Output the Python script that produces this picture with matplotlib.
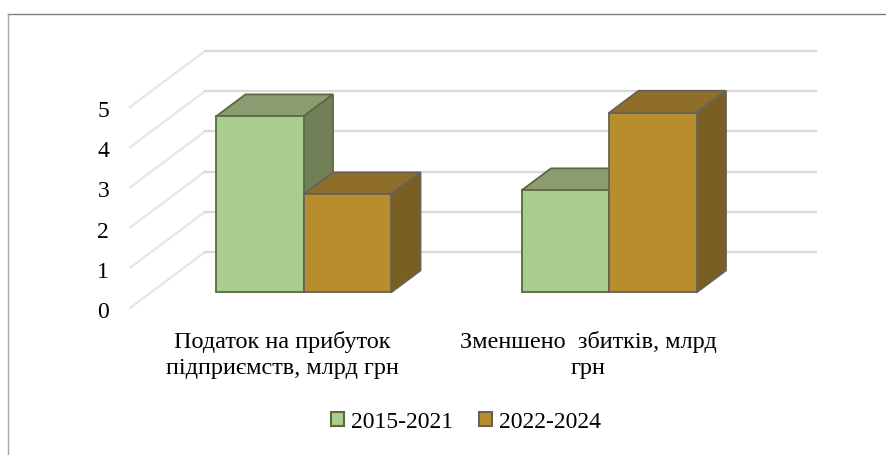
import matplotlib
matplotlib.use("Agg")
import matplotlib.pyplot as plt
from matplotlib.lines import Line2D
from matplotlib.patches import Polygon, Rectangle
from matplotlib.transforms import ScaledTranslation

# Data
categories = ["Податок на прибуток\nпідприємств, млрд грн", "Зменшено  збитків, млрд\nгрн"]
series_names = ["2015-2021", "2022-2024"]
values_2015 = [4.38, 2.54]
values_2022 = [2.44, 4.47]
y_ticks = [0, 1, 2, 3, 4, 5]

W, H = 886, 456
plt.rcParams['font.family'] = ['Liberation Serif', 'DejaVu Serif']

fig = plt.figure(figsize=(W / 100, H / 100), dpi=100)
fig.patch.set_facecolor("white")

# chart frame: only top and left show in the crop
fig.add_artist(Line2D([8 / W, 1], [1 - 14.5 / H, 1 - 14.5 / H], color="#7f7f7f", lw=1.0))
fig.add_artist(Line2D([8 / W, 8 / W], [1 - 14.5 / H, 0], color="#a6a6a6", lw=1.0))

# axes is the front plane of the floor: 0 sits at y=309 px, spans x=130..741 px
px_x, px_y = 611 / 2, 40.2
ax = fig.add_axes([130 / W, 1 - 309 / H, 611 / W, 5 * px_y / H])
ax.set_xlim(-0.5, 1.5)
ax.set_ylim(0, 5)
ax.patch.set_visible(False)
for s in ax.spines.values():
    s.set_visible(False)

depth_x = 75 / px_x
depth_y = 56 / px_y


def pt(x, y, d):
    # point at depth d (0 front, 1 back wall)
    return (x + d * depth_x, y + d * depth_y)


def box(x0, x1, h, d0, d1, front, top, side, edge):
    faces = [
        ([pt(x0, h, d0), pt(x1, h, d0), pt(x1, h, d1), pt(x0, h, d1)], top),
        ([pt(x1, 0, d0), pt(x1, h, d0), pt(x1, h, d1), pt(x1, 0, d1)], side),
        ([pt(x0, 0, d0), pt(x1, 0, d0), pt(x1, h, d0), pt(x0, h, d0)], front),
    ]
    for xy, col in faces:
        ax.add_patch(Polygon(xy, closed=True, facecolor=col, edgecolor=edge, linewidth=1.3,
                             joinstyle="miter", clip_on=False, zorder=3))


# gridlines: wall then back
for t in y_ticks:
    a, b = pt(-0.5, t, 0), pt(-0.5, t, 1)
    c = pt(1.5, t, 1)
    ax.plot([a[0], b[0]], [a[1], b[1]], color="#e6e6e6", lw=1.6, clip_on=False, zorder=1)
    ax.plot([b[0], c[0]], [b[1], c[1]], color="#d9d9d9", lw=1.6, clip_on=False, zorder=1)

bar_w = 87.5 / px_x
d0, d1 = 0.277, 0.67
green = dict(front="#A9CD8C", top="#8A9C70", side="#728058", edge="#5B6840")
brown = dict(front="#B88E2C", top="#8E6E28", side="#7A5F24", edge="#666259")
for i in range(len(categories)):
    box(i - bar_w, i, values_2015[i], d0, d1, **green)
    box(i, i + bar_w, values_2022[i], d0, d1, **brown)

ax.set_xticks([])
ax.set_yticks(y_ticks)
ax.tick_params(axis="y", length=0, pad=15, labelsize=17)
shift = ScaledTranslation(0, -1 / 100, fig.dpi_scale_trans)
for lab in ax.get_yticklabels():
    lab.set_transform(lab.get_transform() + shift)

for i, label in enumerate(categories):
    ax.annotate(label, xy=(i, 0), xycoords=("data", "axes fraction"),
                xytext=(0, -15.5), textcoords="offset points", ha="center", va="top",
                fontsize=17.5, linespacing=1.35)

# legend
handles = [Rectangle((0, 0), 1, 1, facecolor=green["front"], edgecolor=green["edge"], linewidth=1.5),
           Rectangle((0, 0), 1, 1, facecolor=brown["front"], edgecolor=brown["edge"], linewidth=1.5)]
fig.legend(handles, series_names, loc="center", bbox_to_anchor=(466 / W, 1 - 423 / H), ncol=2,
           frameon=False, fontsize=17, handlelength=0.55, handleheight=0.55, handletextpad=0.3,
           columnspacing=1.06)

fig.savefig("out.png", dpi=100)
